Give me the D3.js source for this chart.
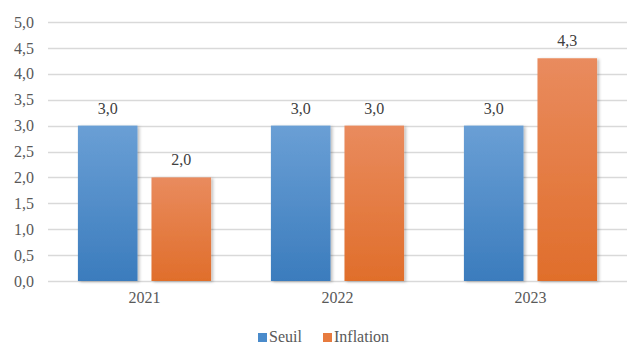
<!DOCTYPE html>
<html>
<head>
<meta charset="utf-8">
<script src="https://cdnjs.cloudflare.com/ajax/libs/d3/7.8.5/d3.min.js"></script>
<style>
  body { margin: 0; background: #fff; }
</style>
</head>
<body>
<svg id="chart" width="627" height="345"></svg>
<script>
// chart data
var years = ["2021", "2022", "2023"];
var seriesNames = ["Seuil", "Inflation"];
var seuil = [3.0, 3.0, 3.0];
var inflation = [2.0, 3.0, 4.3];
var yTicks = [0, 0.5, 1, 1.5, 2, 2.5, 3, 3.5, 4, 4.5, 5];

var width = 627, height = 345;
var margin = { left: 48, right: 0, top: 22, bottom: 64 };
var serif = "'Liberation Serif', serif";

var svg = d3.select("#chart");

var fmt = function(v) { return d3.format(".1f")(v).replace(".", ","); };

// gradients + shadow
var defs = svg.append("defs");
var grads = [
    { id: "gSeuil", top: "#6a9fd5", bottom: "#3b7cbd" },
    { id: "gInfl", top: "#e98b5e", bottom: "#e06e2b" }
];
grads.forEach(function(g) {
    var lg = defs.append("linearGradient").attr("id", g.id)
        .attr("x1", 0).attr("y1", 0).attr("x2", 0).attr("y2", 1);
    lg.append("stop").attr("offset", "0%").attr("stop-color", g.top);
    lg.append("stop").attr("offset", "100%").attr("stop-color", g.bottom);
});
var f = defs.append("filter").attr("id", "shadow")
    .attr("x", "-20%").attr("y", "-10%").attr("width", "140%").attr("height", "120%");
f.append("feDropShadow").attr("dx", 2).attr("dy", 1).attr("stdDeviation", 1.5)
    .attr("flood-color", "#000").attr("flood-opacity", 0.25);

var xScale = d3.scaleBand()
    .domain(years)
    .range([margin.left, width - margin.right])
    .paddingInner(0.31)
    .paddingOuter(0.155);

var xSub = d3.scaleBand()
    .domain(seriesNames)
    .range([0, xScale.bandwidth()])
    .paddingInner(0.19);

var yScale = d3.scaleLinear()
    .domain([0, 5])
    .range([height - margin.bottom, margin.top]);

// gridlines
svg.append("g")
    .selectAll("line")
    .data(yTicks)
    .enter()
    .append("line")
    .attr("x1", margin.left)
    .attr("x2", width - margin.right)
    .attr("y1", function(d) { return Math.round(yScale(d)) + 0.5; })
    .attr("y2", function(d) { return Math.round(yScale(d)) + 0.5; })
    .attr("stroke", "#d9d9d9")
    .attr("stroke-width", 1.3);

// y axis labels
var yAxis = d3.axisLeft(yScale).tickValues(yTicks).tickFormat(fmt).tickSize(0).tickPadding(14);
var yg = svg.append("g")
    .attr("transform", "translate(" + margin.left + ",0)")
    .call(yAxis);
yg.select(".domain").remove();
yg.attr("font-family", serif).attr("font-size", 16);
yg.selectAll("text")
    .attr("fill", "#595959")
    .attr("font-family", serif)
    .attr("font-size", 16);

// x axis labels
var xAxis = d3.axisBottom(xScale).tickSize(0).tickPadding(11);
var xg = svg.append("g")
    .attr("transform", "translate(0," + yScale(0) + ")")
    .call(xAxis);
xg.select(".domain").remove();
xg.attr("font-family", serif).attr("font-size", 16);
xg.selectAll("text")
    .attr("fill", "#595959")
    .attr("font-family", serif)
    .attr("font-size", 16);

// bars
var rows = [];
years.forEach(function(y, i) {
    rows.push({ year: y, key: "Seuil", value: seuil[i], fill: "url(#gSeuil)" });
    rows.push({ year: y, key: "Inflation", value: inflation[i], fill: "url(#gInfl)" });
});

svg.append("g")
    .selectAll("rect")
    .data(rows)
    .enter()
    .append("rect")
    .attr("x", function(d) { return xScale(d.year) + xSub(d.key); })
    .attr("y", function(d) { return yScale(d.value); })
    .attr("width", xSub.bandwidth())
    .attr("height", function(d) { return yScale(0) - yScale(d.value); })
    .attr("fill", function(d) { return d.fill; })
    .attr("filter", "url(#shadow)");

// value labels
svg.append("g")
    .selectAll("text")
    .data(rows)
    .enter()
    .append("text")
    .attr("x", function(d) { return xScale(d.year) + xSub(d.key) + xSub.bandwidth() / 2; })
    .attr("y", function(d) { return yScale(d.value) - 12; })
    .attr("text-anchor", "middle")
    .attr("fill", "#404040")
    .attr("font-family", serif)
    .attr("font-size", 16)
    .text(function(d) { return fmt(d.value); });

// legend
var legendItems = [
    { name: "Seuil", color: "#4a8bcb", x: 258 },
    { name: "Inflation", color: "#e77b3f", x: 323 }
];
var lg = svg.append("g");
legendItems.forEach(function(it) {
    lg.append("rect").attr("x", it.x).attr("y", 333).attr("width", 9).attr("height", 9)
        .attr("fill", it.color);
    lg.append("text").attr("x", it.x + 11).attr("y", 342)
        .attr("fill", "#595959")
        .attr("font-family", serif)
        .attr("font-size", 16)
        .text(it.name);
});
</script>
</body>
</html>
